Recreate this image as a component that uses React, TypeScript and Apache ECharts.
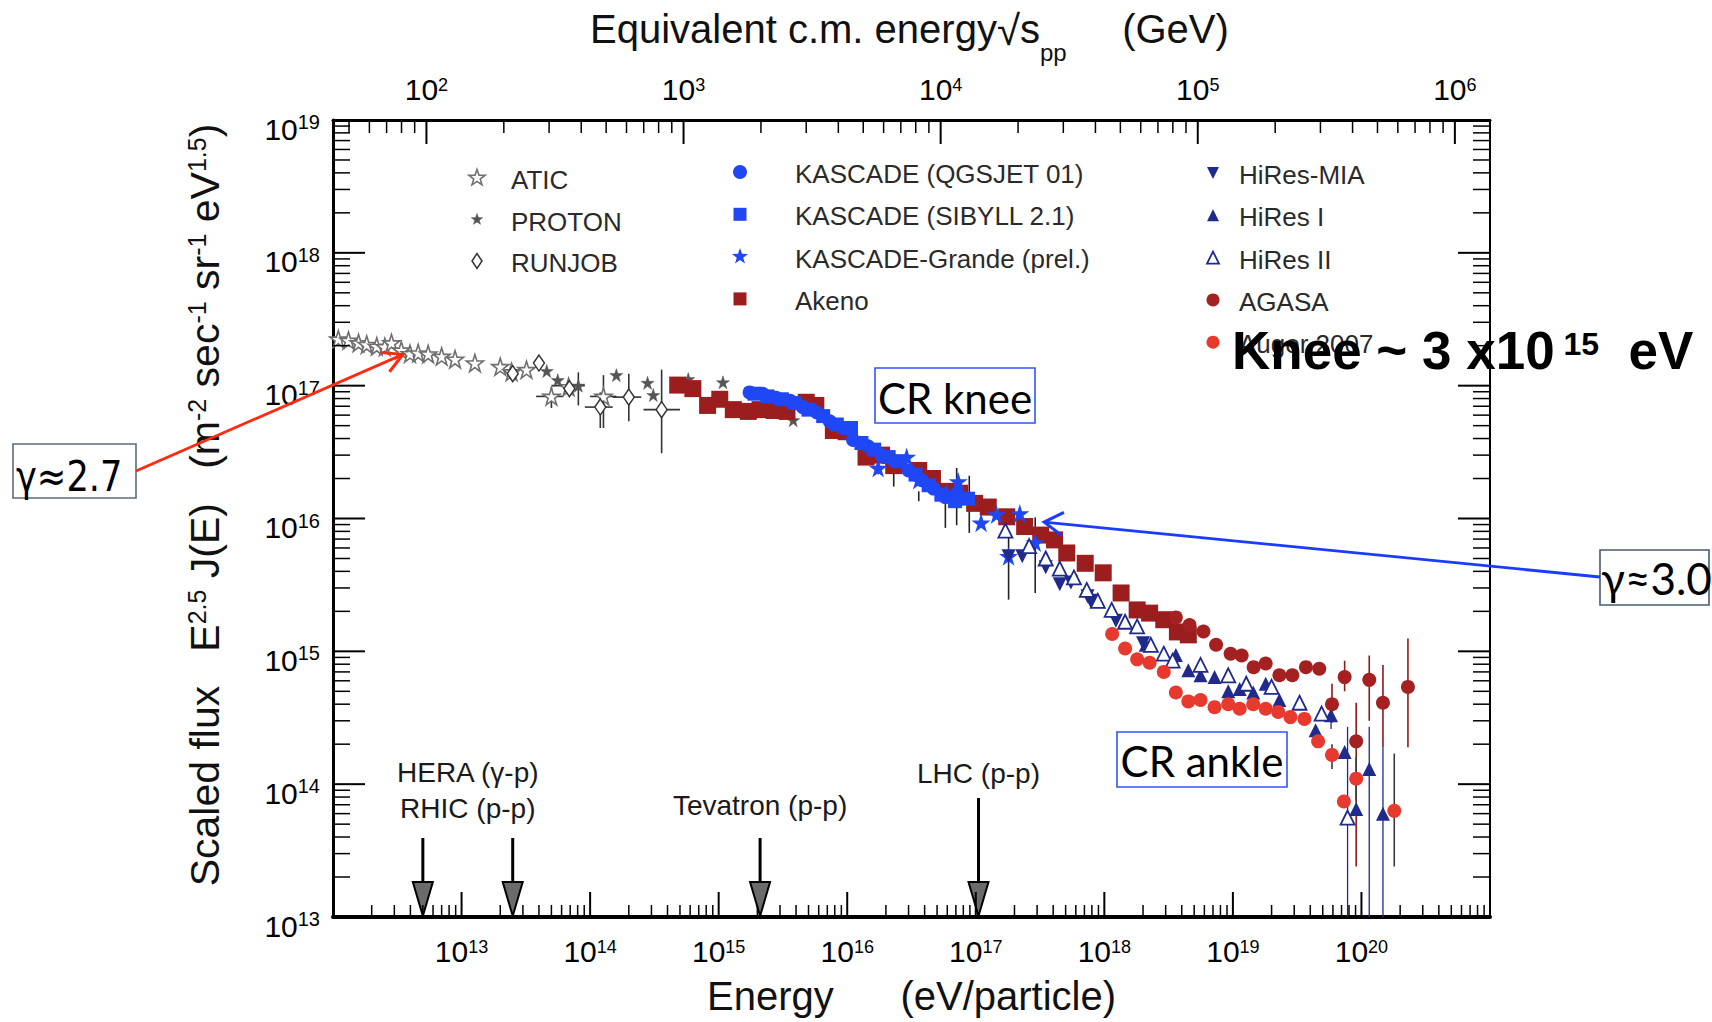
import React, { useEffect, useRef } from "react";
import * as echarts from "echarts";

const W = 1712;
const H = 1022;
const FONT = '"Liberation Sans", Arial, Helvetica, sans-serif';
const FONT_CAL = 'Lato, "Open Sans", sans-serif';
const FONT_DV = '"DejaVu Sans", Verdana, sans-serif';

// ---------------- data: [energy (eV), scaled flux E^2.5 J(E)] ----------------
const atic = [
  [1.1e12, 2.24e17], [1.32e12, 2.19e17], [1.58e12, 2.1e17], [1.83e12, 2.04e17], [2.19e12, 1.98e17],
  [2.53e12, 1.96e17], [2.85e12, 2.1e17], [3.4e12, 1.85e17], [3.97e12, 1.74e17], [4.6e12, 1.76e17],
  [5.5e12, 1.73e17], [7.0e12, 1.66e17], [8.9e12, 1.58e17], [1.27e13, 1.48e17], [2.0e13, 1.39e17],
  [2.45e13, 1.27e17], [3.2e13, 1.32e17], [5.0e13, 8.3e16], [6.8e13, 9.8e16], [1.27e14, 8.3e16],
];
const proton = [
  [4.6e13, 1.29e17], [5.6e13, 1.1e17], [8.1e13, 1.0e17], [1.6e14, 1.2e17], [2.8e14, 1.05e17],
  [3.1e14, 8.5e16], [5.8e14, 1.12e17], [1.08e15, 1.06e17], [3.8e15, 5.5e16],
];
const runjob = [
  [2.5e13, 1.23e17], [4.0e13, 1.48e17], [6.9e13, 9.5e16], [1.2e14, 6.9e16], [2.0e14, 8.2e16], [3.6e14, 6.6e16],
];
const akeno = [
  [4.8e14, 1.01e17], [6.3e14, 9.5e16], [8.2e14, 7.1e16], [1.02e15, 7.9e16], [1.3e15, 6.6e16],
  [1.7e15, 6.4e16], [2.1e15, 6.6e16], [2.7e15, 6.5e16], [3.4e15, 6.4e16], [4.8e15, 7.5e16],
  [5.7e15, 7.1e16], [7.8e15, 4.6e16], [9.8e15, 4.5e16], [1.4e16, 2.9e16], [1.85e16, 3.0e16],
  [2.3e16, 2.5e16], [3.6e16, 2.3e16], [4.6e16, 2.0e16], [5.9e16, 1.6e16], [7.5e16, 1.55e16],
  [9.8e16, 1.3e16], [1.25e17, 1.22e16], [1.74e17, 1.03e16], [2.4e17, 8.7e15], [3.2e17, 7.5e15],
  [4.1e17, 6.9e15], [5.1e17, 5.5e15], [7.1e17, 4.6e15], [9.8e17, 3.9e15], [1.35e18, 2.75e15],
  [1.8e18, 2.05e15], [2.25e18, 1.94e15], [2.9e18, 1.73e15], [3.7e18, 1.4e15], [4.5e18, 1.33e15],
];
const kascadeQgsjet = [
  [1.74e15, 8.9e16], [2.2e15, 8.7e16], [2.8e15, 8.1e16], [3.6e15, 7.7e16], [4.5e15, 6.9e16],
  [5.8e15, 6.3e16], [7.3e15, 5.4e16], [9.2e15, 4.8e16], [1.11e16, 3.9e16], [1.45e16, 3.5e16],
  [1.85e16, 3.0e16], [2.35e16, 2.7e16], [3.0e16, 2.3e16], [3.8e16, 1.94e16], [4.7e16, 1.68e16],
  [5.8e16, 1.45e16], [7.1e16, 1.54e16],
];
const kascadeSibyll = [
  [1.9e15, 8.7e16], [2.4e15, 8.3e16], [3.1e15, 7.9e16], [3.9e15, 7.4e16], [5.0e15, 6.6e16],
  [6.5e15, 5.9e16], [8.3e15, 5.1e16], [1.07e16, 4.8e16], [1.29e16, 3.7e16], [1.62e16, 3.3e16],
  [2.1e16, 2.9e16], [2.6e16, 2.7e16], [3.4e16, 2.14e16], [4.3e16, 1.78e16], [5.4e16, 1.51e16],
  [6.9e16, 1.35e16], [8.7e16, 1.41e16],
];
const kascadeGrande = [
  [1.74e16, 2.4e16], [2.9e16, 2.9e16], [3.6e16, 1.95e16], [5.9e16, 1.55e16], [7.3e16, 1.9e16],
  [1.1e17, 9.3e15], [1.45e17, 1.07e16], [2.2e17, 1.09e16], [1.8e17, 5.2e15], [2.9e17, 6.6e15],
];
const hiresMia = [
  [1.8e17, 5.2e15], [2.3e17, 5.2e15], [3.5e17, 4.3e15], [4.5e17, 3.2e15], [5.5e17, 3.3e15],
  [7.4e17, 2.6e15], [7.8e17, 2.4e15], [1.23e18, 1.7e15], [2.0e18, 1.15e15],
];
const hiresI = [
  [2.1e18, 1.12e15], [3.6e18, 9.4e14], [4.5e18, 7.2e14], [5.6e18, 6.6e14], [7.2e18, 6.4e14],
  [9.2e18, 5.0e14], [1.13e19, 5.2e14], [1.44e19, 4.9e14], [1.8e19, 5.7e14], [2.3e19, 4.3e14],
  [4.4e19, 2.55e14], [5.8e19, 3.3e14], [7.4e19, 1.75e14], [9.1e19, 6.5e13], [1.15e20, 1.3e14],
  [1.47e20, 6.0e13],
];
const hiresII = [
  [1.7e17, 8.1e15], [2.6e17, 6.2e15], [3.5e17, 5.0e15], [4.5e17, 4.2e15], [5.8e17, 3.6e15],
  [7.3e17, 2.9e15], [8.9e17, 2.4e15], [1.14e18, 2.05e15], [1.45e18, 1.67e15], [1.8e18, 1.54e15],
  [2.3e18, 1.12e15], [2.9e18, 9.6e14], [3.4e18, 8.5e14], [5.6e18, 7.9e14], [9.2e18, 6.6e14],
  [1.27e19, 5.7e14], [2.0e19, 5.4e14], [3.3e19, 4.1e14], [4.9e19, 3.4e14], [7.8e19, 5.6e13],
];
const agasa = [
  [3.6e18, 1.8e15], [4.6e18, 1.58e15], [5.9e18, 1.41e15], [7.4e18, 1.12e15], [9.6e18, 9.6e14],
  [1.17e19, 9.3e14], [1.45e19, 7.6e14], [1.8e19, 8.1e14], [2.3e19, 6.6e14], [2.9e19, 6.6e14],
  [3.7e19, 7.6e14], [4.7e19, 7.4e14], [5.9e19, 4.0e14], [7.4e19, 6.4e14], [9.1e19, 2.1e14],
  [1.15e20, 6.1e14], [1.47e20, 4.1e14], [2.3e20, 5.4e14],
];
const auger = [
  [1.15e18, 1.35e15], [1.45e18, 1.05e15], [1.8e18, 8.7e14], [2.25e18, 8.2e14], [2.9e18, 7.0e14],
  [3.6e18, 4.9e14], [4.5e18, 4.2e14], [5.6e18, 4.3e14], [7.2e18, 3.8e14], [9.2e18, 4.0e14],
  [1.13e19, 3.7e14], [1.44e19, 4.0e14], [1.8e19, 3.7e14], [2.25e19, 3.5e14], [2.8e19, 3.2e14],
  [3.6e19, 3.1e14], [4.6e19, 2.1e14], [5.9e19, 1.66e14], [7.3e19, 7.4e13], [9.1e19, 1.1e14],
  [1.8e20, 6.3e13],
];

// vertical error bars: [E, low, high]
const grayErrY = [
  [5.0e13, 6.8e16, 9.8e16], [8.1e13, 7.1e16, 1.26e17], [1.2e14, 4.8e16, 8.9e16],
  [1.27e14, 4.8e16, 1.2e17], [2.0e14, 5.4e16, 1.23e17], [3.6e14, 3.1e16, 1.32e17],
];
// horizontal error bars: [Elow, F, Ehigh]
const grayErrX = [
  [3.8e13, 8.3e16, 6.2e13], [5.0e13, 1.0e17, 9.1e13], [9.1e13, 6.9e16, 1.5e14],
  [1.0e14, 8.3e16, 1.6e14], [1.5e14, 8.2e16, 2.5e14], [2.6e14, 6.6e16, 5.0e14],
];
const kascadeErrY = [
  [1.74e16, 2.15e16, 2.75e16], [2.3e16, 1.74e16, 2.2e16], [3.6e16, 1.35e16, 1.6e16],
  [5.8e16, 8.5e15, 1.38e16], [7.1e16, 8.9e15, 2.4e16], [8.9e16, 7.8e15, 2.1e16],
  [1.8e17, 2.45e15, 7.8e15], [2.9e17, 2.75e15, 1.02e16],
];
const hiresErrY = [
  [7.8e19, 1e13, 2.7e14], [1.15e20, 1e13, 2.7e14], [1.47e20, 1e13, 1.9e14],
  [5.8e19, 2.6e14, 4.1e14],
];
const agasaErrY = [
  [5.9e19, 2.9e14, 5.7e14], [7.4e19, 5.0e14, 8.5e14], [9.1e19, 2.4e13, 4.1e14],
  [1.15e20, 3.0e14, 9.3e14], [1.47e20, 1.9e14, 7.9e14], [2.3e20, 1.9e14, 1.25e15],
];
const augerErrY = [
  [5.9e19, 1.3e14, 2.0e14], [9.1e19, 7.5e13, 1.6e14], [1.8e20, 2.4e13, 1.7e14],
];

// accelerator equivalent energies (eV)
const colliderNames = ["HERA", "RHIC", "Tevatron", "LHC"];
const colliderE = [5.0e12, 2.5e13, 2.1e15, 1.05e17];

// annotation targets (data space)
const GAMMA27_TIP = [3.5e12, 1.72e17];
const GAMMA30_TIP = [3.4e17, 9.4e15];

// axis ranges
const E_MIN = 1e12;
const E_MAX = 1e21;
const F_MIN = 1e13;
const F_MAX = 1e19;
const TWO_MP = 1.876; // 2 m_p in GeV
const sqrtS = (eV: number) => Math.sqrt((TWO_MP * eV) / 1e9);

// ---------------- styles ----------------
const STAR_PATH =
  "path://M50,0 L61.8,36.2 L100,36.2 L69.1,58.6 L80.9,95 L50,72.6 L19.1,95 L30.9,58.6 L0,36.2 L38.2,36.2 Z";
const BLUE = "#1f47f5";
const NAVY = "#1f2a8c";
const DARKRED = "#9c1d1d";
const RED = "#e8392e";

const SERIES: any[] = [
  { name: "ATIC", data: atic, sym: "star", size: 17, fill: "#ffffff", stroke: "#6f6f6f", lw: 1.6, lsize: 17 },
  { name: "PROTON", data: proton, sym: "star", size: 13, fill: "#555555", stroke: "#555555", lw: 0.5, lsize: 12 },
  { name: "RUNJOB", data: runjob, sym: "diamond", size: [11, 16], fill: "#ffffff", stroke: "#333333", lw: 1.5, lsize: [10, 15] },
  { name: "Akeno", data: akeno, sym: "rect", size: 17, fill: DARKRED, stroke: DARKRED, lw: 0, lsize: 13 },
  { name: "KASCADE (QGSJET 01)", data: kascadeQgsjet, sym: "circle", size: 14, fill: BLUE, stroke: BLUE, lw: 0, lsize: 14 },
  { name: "KASCADE (SIBYLL 2.1)", data: kascadeSibyll, sym: "rect", size: 14, fill: BLUE, stroke: BLUE, lw: 0, lsize: 13 },
  { name: "KASCADE-Grande (prel.)", data: kascadeGrande, sym: "star", size: 19, fill: BLUE, stroke: BLUE, lw: 0, lsize: 17 },
  { name: "HiRes-MIA", data: hiresMia, sym: "triangleDown", size: 14, fill: NAVY, stroke: NAVY, lw: 0, lsize: 12 },
  { name: "HiRes I", data: hiresI, sym: "triangle", size: 14, fill: NAVY, stroke: NAVY, lw: 0, lsize: 12 },
  { name: "HiRes II", data: hiresII, sym: "triangle", size: 14, fill: "#ffffff", stroke: NAVY, lw: 1.8, lsize: 12 },
  { name: "AGASA", data: agasa, sym: "circle", size: 14, fill: "#a52020", stroke: "#a52020", lw: 0, lsize: 13 },
  { name: "Auger 2007", data: auger, sym: "circle", size: 14, fill: RED, stroke: RED, lw: 0, lsize: 13 },
];

const LEGEND_COLS = [
  { sx: 477, tx: 511, y0: 178, dy: 41.5, names: ["ATIC", "PROTON", "RUNJOB"] },
  { sx: 740, tx: 795, y0: 172, dy: 42.3, names: ["KASCADE (QGSJET 01)", "KASCADE (SIBYLL 2.1)", "KASCADE-Grande (prel.)", "Akeno"] },
  { sx: 1213, tx: 1239, y0: 173, dy: 42.3, names: ["HiRes-MIA", "HiRes I", "HiRes II", "AGASA", "Auger 2007"] },
];

const echartsSymbol = (k: string) => (k === "star" ? STAR_PATH : k === "triangleDown" ? "triangle" : k);

const starPts = (cx: number, cy: number, R: number) => {
  const pts: number[][] = [];
  for (let i = 0; i < 10; i++) {
    const r = i % 2 === 0 ? R : R * 0.4;
    const a = -Math.PI / 2 + (i * Math.PI) / 5;
    pts.push([cx + r * Math.cos(a), cy + r * Math.sin(a)]);
  }
  return pts;
};

const legendSymbol = (s: any, cx: number, cy: number) => {
  const style = { fill: s.fill, stroke: s.lw > 0 ? s.stroke : null, lineWidth: s.lw };
  const sz = s.lsize;
  switch (s.sym) {
    case "circle":
      return { type: "circle", shape: { cx, cy, r: sz / 2 }, style };
    case "rect":
      return { type: "rect", shape: { x: cx - sz / 2, y: cy - sz / 2, width: sz, height: sz }, style };
    case "triangle":
      return { type: "polygon", shape: { points: [[cx, cy - sz / 2], [cx + sz / 2, cy + sz / 2], [cx - sz / 2, cy + sz / 2]] }, style };
    case "triangleDown":
      return { type: "polygon", shape: { points: [[cx - sz / 2, cy - sz / 2], [cx + sz / 2, cy - sz / 2], [cx, cy + sz / 2]] }, style };
    case "diamond":
      return { type: "polygon", shape: { points: [[cx, cy - sz[1] / 2], [cx + sz[0] / 2, cy], [cx, cy + sz[1] / 2], [cx - sz[0] / 2, cy]] }, style };
    default:
      return { type: "polygon", shape: { points: starPts(cx, cy, sz / 2) }, style };
  }
};

// log tick values between lo and hi (1..9 x 10^n)
const logTicks = (lo: number, hi: number) => {
  const out: number[] = [];
  for (let n = Math.floor(Math.log10(lo)); n <= Math.ceil(Math.log10(hi)); n++) {
    for (let k = 1; k < 10; k++) {
      const v = k * Math.pow(10, n);
      if (v >= lo * 0.999999 && v <= hi * 1.000001) out.push(v);
    }
  }
  return out;
};
const isPow10 = (v: number) => Math.abs(Math.log10(v) - Math.round(Math.log10(v))) < 1e-6;

const powLabel = (lo: number, hi: number) => (v: number) => {
  const l = Math.log10(v);
  const n = Math.round(l);
  if (Math.abs(l - n) > 1e-6 || n < lo || n > hi) return "";
  return `{b|10}{s|${n}}`;
};

const tickSeries = (side: string, values: number[], majorLen: number, minorLen: number) => {
  const horiz = side === "bottom" || side === "top";
  return {
    type: "custom",
    silent: true,
    z: 6,
    xAxisIndex: side === "top" ? 1 : 0,
    yAxisIndex: 0,
    data: values.map((v) => (horiz ? [v, 1e16] : [1e16, v])),
    renderItem: (params: any, api: any) => {
      const cs = params.coordSys;
      const v = horiz ? api.value(0) : api.value(1);
      const p = api.coord([api.value(0), api.value(1)]);
      const len = isPow10(v) ? majorLen : minorLen;
      const lw = isPow10(v) ? 2 : 1.5;
      let shape;
      if (side === "bottom") shape = { x1: p[0], y1: cs.y + cs.height, x2: p[0], y2: cs.y + cs.height - len };
      else if (side === "top") shape = { x1: p[0], y1: cs.y, x2: p[0], y2: cs.y + len };
      else if (side === "left") shape = { x1: cs.x, y1: p[1], x2: cs.x + len, y2: p[1] };
      else shape = { x1: cs.x + cs.width, y1: p[1], x2: cs.x + cs.width - len, y2: p[1] };
      return { type: "line", shape, style: { stroke: "#000", lineWidth: lw } };
    },
  };
};

const errSeries = (data: number[][], color: string, width: number, horizontal = false) => ({
  type: "custom",
  silent: true,
  z: 2,
  data,
  renderItem: (params: any, api: any) => {
    let a, b;
    if (horizontal) {
      a = api.coord([api.value(0), api.value(1)]);
      b = api.coord([api.value(2), api.value(1)]);
    } else {
      a = api.coord([api.value(0), api.value(1)]);
      b = api.coord([api.value(0), api.value(2)]);
    }
    return { type: "line", shape: { x1: a[0], y1: a[1], x2: b[0], y2: b[1] }, style: { stroke: color, lineWidth: width } };
  },
});

const labelRichX = {
  b: { fontSize: 30, fontFamily: FONT, color: "#000", lineHeight: 40, verticalAlign: "top" },
  s: { fontSize: 18, fontFamily: FONT, color: "#000", lineHeight: 18, verticalAlign: "top", padding: [2, 0, 0, 0] },
};
const labelRichY = {
  b: { fontSize: 30, fontFamily: FONT, color: "#000", lineHeight: 44, verticalAlign: "top", padding: [16, 0, 0, 0] },
  s: { fontSize: 20, fontFamily: FONT, color: "#000", lineHeight: 20, verticalAlign: "top", padding: [14, 0, 0, 0] },
};

function buildOption() {
  const series: any[] = [];
  series.push(errSeries(grayErrY, "#333", 1.6));
  series.push(errSeries(grayErrX, "#333", 1.6, true));
  series.push(errSeries(kascadeErrY, "#222", 1.6));
  series.push(errSeries(hiresErrY, NAVY, 1.3));
  series.push(errSeries(agasaErrY, "#8b1a1a", 1.6));
  series.push(errSeries(augerErrY, "#3a3a3a", 1.6));
  SERIES.forEach((s) => {
    series.push({
      type: "scatter",
      name: s.name,
      data: s.data,
      symbol: echartsSymbol(s.sym),
      symbolSize: s.size,
      symbolRotate: s.sym === "triangleDown" ? 180 : 0,
      itemStyle: { color: s.fill, borderColor: s.stroke, borderWidth: s.lw, opacity: 1 },
      z: 4,
      silent: true,
    });
  });
  // collider arrows
  series.push({
    type: "custom",
    silent: true,
    z: 5,
    data: colliderE.map((e) => [e, F_MIN]),
    renderItem: (params: any, api: any) => {
      const i = params.dataIndex;
      const p = api.coord([api.value(0), api.value(1)]);
      const x = p[0];
      const yb = p[1];
      const top = yb - (colliderNames[i] === "LHC" ? 119 : 79);
      const hh = 35;
      const hw = 10;
      return {
        type: "group",
        children: [
          { type: "line", shape: { x1: x, y1: top, x2: x, y2: yb - hh }, style: { stroke: "#000", lineWidth: 3 } },
          {
            type: "polygon",
            shape: { points: [[x - hw, yb - hh], [x + hw, yb - hh], [x, yb - 1]] },
            style: { fill: "#6b6b6b", stroke: "#000", lineWidth: 2 },
          },
        ],
      };
    },
  });
  series.push(tickSeries("bottom", logTicks(E_MIN, E_MAX), 25, 12));
  series.push(tickSeries("top", logTicks(sqrtS(E_MIN), sqrtS(E_MAX)), 24, 13));
  series.push(tickSeries("left", logTicks(F_MIN, F_MAX), 32, 17));
  series.push(tickSeries("right", logTicks(F_MIN, F_MAX), 32, 17));

  return {
    animation: false,
    backgroundColor: "#ffffff",
    grid: { left: 333, right: W - 1490, top: 120, bottom: H - 917, containLabel: false, outerBoundsMode: "none" },
    xAxis: [
      {
        type: "log",
        min: E_MIN,
        max: E_MAX,
        splitNumber: 9,
        position: "bottom",
        axisLine: { show: true, onZero: false, lineStyle: { color: "#000", width: 4 } },
        axisTick: { show: false },
        splitLine: { show: false },
        axisLabel: { margin: 19, formatter: powLabel(13, 20), rich: labelRichX },
      },
      {
        type: "log",
        min: sqrtS(E_MIN),
        max: sqrtS(E_MAX),
        position: "top",
        axisLine: { show: true, onZero: false, lineStyle: { color: "#000", width: 3 } },
        axisTick: { show: false },
        splitLine: { show: false },
        axisLabel: { margin: 6, formatter: powLabel(2, 6), rich: labelRichX },
      },
    ],
    yAxis: [
      {
        type: "log",
        min: F_MIN,
        max: F_MAX,
        splitNumber: 6,
        position: "left",
        axisLine: { show: true, onZero: false, lineStyle: { color: "#000", width: 3 } },
        axisTick: { show: false },
        splitLine: { show: false },
        axisLabel: { margin: 13, formatter: powLabel(13, 19), rich: labelRichY },
      },
      {
        type: "log",
        min: F_MIN,
        max: F_MAX,
        position: "right",
        axisLine: { show: true, onZero: false, lineStyle: { color: "#000", width: 2 } },
        axisTick: { show: false },
        splitLine: { show: false },
        axisLabel: { show: false },
      },
    ],
    series,
  };
}

const arrowHead = (tip: number[], from: number[], len: number, ang: number) => {
  const dx = from[0] - tip[0];
  const dy = from[1] - tip[1];
  const d = Math.hypot(dx, dy);
  const ux = dx / d;
  const uy = dy / d;
  const rot = (a: number) => [
    tip[0] + len * (ux * Math.cos(a) - uy * Math.sin(a)),
    tip[1] + len * (ux * Math.sin(a) + uy * Math.cos(a)),
  ];
  return [rot(ang), tip, rot(-ang)];
};

function buildGraphic(tip27: number[], tip30: number[], colX: number[], bottomY: number) {
  const els: any[] = [];
  // legend
  LEGEND_COLS.forEach((col) => {
    col.names.forEach((name, i) => {
      const s = SERIES.find((q) => q.name === name);
      const y = col.y0 + i * col.dy;
      els.push(legendSymbol(s, col.sx, y));
      els.push({
        type: "text",
        x: col.tx,
        y: y + 2,
        style: { text: name, fontSize: 26, fontFamily: FONT, fill: "#2a2a2a", align: "left", verticalAlign: "middle" },
      });
    });
  });
  // titles
  els.push({
    type: "text",
    x: 590,
    y: 9,
    style: {
      text: "{a|Equivalent c.m. energy}{r|√}{a|s}{sub|pp}{a|     (GeV)}",
      align: "left",
      verticalAlign: "top",
      rich: {
        a: { fontSize: 40, fontFamily: FONT, fill: "#111", lineHeight: 48, verticalAlign: "top" },
        r: { fontSize: 42, fontFamily: FONT, fill: "#111", lineHeight: 48, verticalAlign: "top" },
        sub: { fontSize: 24, fontFamily: FONT, fill: "#111", lineHeight: 24, verticalAlign: "top", padding: [31, 0, 0, 0] },
      },
    },
  });
  els.push({
    type: "text",
    x: 707,
    y: 996,
    style: { text: "Energy      (eV/particle)", fontSize: 40, fontFamily: FONT, fill: "#111", align: "left", verticalAlign: "middle" },
  });
  els.push({
    type: "text",
    x: 214,
    y: 505,
    rotation: Math.PI / 2,
    style: {
      text: "{a|Scaled flux   E}{s|2.5}{a| J(E)   (m}{s|-2}{a| sec}{s|-1}{a| sr}{s|-1}{a| eV}{s|1.5}{a|)}",
      align: "center",
      verticalAlign: "middle",
      rich: {
        a: { fontSize: 41, fontFamily: FONT, fill: "#111", lineHeight: 60, verticalAlign: "top" },
        s: { fontSize: 25, fontFamily: FONT, fill: "#111", lineHeight: 25, verticalAlign: "top" },
      },
    },
  });
  // collider labels
  const colText = (text: string, x: number, y: number) => ({
    type: "text",
    x,
    y,
    z: 10,
    style: { text, fontSize: 28, fontFamily: FONT, fill: "#1a1a1a", align: "center", verticalAlign: "middle" },
  });
  const midHR = (colX[0] + colX[1]) / 2;
  els.push(colText("HERA (γ-p)", midHR, bottomY - 145));
  els.push(colText("RHIC (p-p)", midHR, bottomY - 109));
  els.push(colText("Tevatron (p-p)", colX[2], bottomY - 112));
  els.push(colText("LHC (p-p)", colX[3], bottomY - 144));

  // CR knee / ankle boxes
  const box = (x: number, y: number, w: number, h: number, stroke: string) => ({
    type: "rect",
    z: 10,
    shape: { x, y, width: w, height: h },
    style: { fill: "#ffffff", stroke, lineWidth: 1.6 },
  });
  els.push(box(875, 368, 160, 55, "#2f55ff"));
  els.push({
    type: "text",
    x: 955,
    y: 398,
    z: 11,
    style: { text: "CR knee", fontSize: 42, fontFamily: FONT_CAL, fill: "#000", align: "center", verticalAlign: "middle" },
  });
  els.push(box(1117, 732, 170, 55, "#2f55ff"));
  els.push({
    type: "text",
    x: 1202,
    y: 761,
    z: 11,
    style: { text: "CR ankle", fontSize: 42, fontFamily: FONT_CAL, fill: "#000", align: "center", verticalAlign: "middle" },
  });

  // gamma 2.7 box + red arrow
  const from27 = [136, 471];
  els.push({ type: "line", z: 12, shape: { x1: from27[0], y1: from27[1], x2: tip27[0], y2: tip27[1] }, style: { stroke: "#ff2a10", lineWidth: 2.8 } });
  els.push({ type: "polyline", z: 12, shape: { points: arrowHead(tip27, from27, 22, 0.5) }, style: { stroke: "#ff2a10", lineWidth: 3, fill: null } });
  els.push(box(13, 444, 123, 54, "#5b6b7b"));
  els.push({
    type: "text",
    x: 16,
    y: 476,
    z: 11,
    scaleX: 0.84,
    style: { text: "γ≈2.7", fontSize: 42, fontFamily: FONT_DV, fill: "#000", align: "left", verticalAlign: "middle" },
  });

  // gamma 3.0 box + blue arrow
  const from30 = [1600, 577];
  els.push({ type: "line", z: 12, shape: { x1: from30[0], y1: from30[1], x2: tip30[0], y2: tip30[1] }, style: { stroke: "#1a3cff", lineWidth: 2.8 } });
  els.push({ type: "polyline", z: 12, shape: { points: arrowHead(tip30, from30, 22, 0.55) }, style: { stroke: "#1a3cff", lineWidth: 3, fill: null } });
  els.push(box(1600, 550, 109, 55, "#4a5a6a"));
  els.push({
    type: "text",
    x: 1601,
    y: 578,
    z: 11,
    style: { text: "γ≈3.0", fontSize: 44, fontFamily: FONT_CAL, fill: "#000", align: "left", verticalAlign: "middle" },
  });

  // knee annotation (drawn over the legend, as in the original slide)
  els.push({
    type: "text",
    x: 1232,
    y: 324,
    z: 20,
    style: {
      text: "{k|Knee ~ 3 x10}{s| 15}{k|  eV}",
      align: "left",
      verticalAlign: "top",
      rich: {
        k: { fontSize: 53, fontWeight: "bold", fontFamily: FONT, fill: "#000", lineHeight: 60, verticalAlign: "top" },
        s: { fontSize: 32, fontWeight: "bold", fontFamily: FONT, fill: "#000", lineHeight: 32, verticalAlign: "top", padding: [4, 0, 0, 0] },
      },
    },
  });
  return els;
}

export default function App() {
  const ref = useRef<HTMLDivElement>(null);
  useEffect(() => {
    document.body.style.margin = "0";
    const chart = echarts.init(ref.current as HTMLDivElement, null, { renderer: "svg", width: W, height: H });
    chart.setOption(buildOption() as any);
    const toPx = (p: number[]) => chart.convertToPixel({ xAxisIndex: 0, yAxisIndex: 0 } as any, p) as unknown as number[];
    const colX = colliderE.map((e) => toPx([e, F_MIN])[0]);
    const bottomY = toPx([E_MIN, F_MIN])[1];
    chart.setOption({ graphic: buildGraphic(toPx(GAMMA27_TIP), toPx(GAMMA30_TIP), colX, bottomY) } as any);
    return () => chart.dispose();
  }, []);
  return (
    <div
      ref={ref}
      style={{ position: "absolute", left: 0, top: 0, width: W, height: H, background: "#ffffff" }}
    />
  );
}
